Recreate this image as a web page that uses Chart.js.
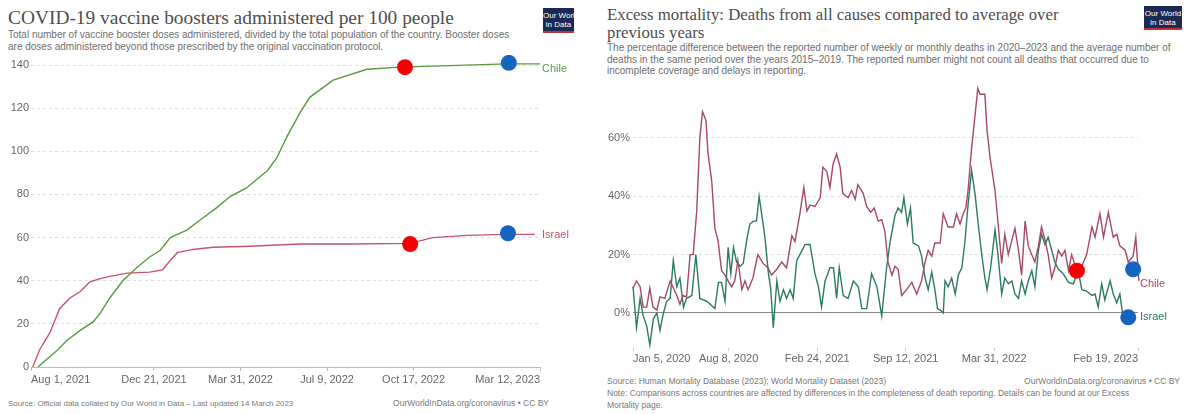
<!DOCTYPE html>
<html>
<head>
<meta charset="utf-8">
<script src="https://cdn.jsdelivr.net/npm/chart.js@4/dist/chart.umd.min.js"></script>
<style>
  body { margin: 0; background: #fff; width: 1186px; height: 414px; position: relative; overflow: hidden; font-family: "Liberation Sans", Arial, sans-serif; }
  .abs { position: absolute; white-space: nowrap; }
  .title { font-family: "Liberation Serif", serif; font-size: 19.4px; color: #4e4e4e; line-height: 18px; }
  .sub { font-size: 10px; color: #6e6e6e; line-height: 11.5px; }
  .foot { font-size: 8.5px; color: #777; line-height: 11.5px; }
  .logo { background: #1a2a55; color: #fff; font-size: 8px; line-height: 9px; text-align: center; border-bottom: 2px solid #c0313a; padding-top: 3px; box-sizing: border-box; }
  canvas { position: absolute; }
</style>
</head>
<body>

<div class="abs title" style="left:8px; top:9px;">COVID-19 vaccine boosters administered per 100 people</div>
<div class="abs sub" style="left:8px; top:29px;">Total number of vaccine booster doses administered, divided by the total population of the country. Booster doses<br>are doses administered beyond those prescribed by the original vaccination protocol.</div>
<div class="abs logo" style="left:543px; top:8px; width:31px; height:25px;">Our World<br>in Data</div>
<div class="abs foot" style="left:8px; top:398px; font-size:7.9px;">Source: Official data collated by Our World in Data – Last updated 14 March 2023</div>
<div class="abs foot" style="right:637px; top:398px;">OurWorldInData.org/coronavirus • CC BY</div>

<div class="abs title" style="left:607px; top:6px; font-size:16.8px;">Excess mortality: Deaths from all causes compared to average over<br>previous years</div>
<div class="abs sub" style="left:607px; top:42px;">The percentage difference between the reported number of weekly or monthly deaths in 2020–2023 and the average number of<br>deaths in the same period over the years 2015–2019. The reported number might not count all deaths that occurred due to<br>incomplete coverage and delays in reporting.</div>
<div class="abs logo" style="left:1144px; top:6px; width:38px; height:24px;">Our World<br>in Data</div>
<div class="abs foot" style="left:607px; top:376px;">Source: Human Mortality Database (2023); World Mortality Dataset (2023)</div>
<div class="abs foot" style="right:6px; top:376px;">OurWorldInData.org/coronavirus • CC BY</div>
<div class="abs foot" style="left:607px; top:388px;">Note: Comparisons across countries are affected by differences in the completeness of death reporting. Details can be found at our Excess<br>Mortality page.</div>

<canvas id="boosterChart" style="left:0px; top:55px;" width="590" height="335"></canvas>
<canvas id="mortalityChart" style="left:600px; top:70px;" width="586" height="295"></canvas>

<script>
// ---------- Left chart: boosters per 100 people (x = days since Aug 1, 2021) ----------
const boosterTickDays = [0, 142, 242, 342, 442, 588];
const boosterTickLabels = ['Aug 1, 2021', 'Dec 21, 2021', 'Mar 31, 2022', 'Jul 9, 2022', 'Oct 17, 2022', 'Mar 12, 2023'];
const boosterYTicks = [0, 20, 40, 60, 80, 100, 120, 140];

const chileBoosterDays = [8, 31, 42, 57, 72, 80, 91, 106, 122, 137, 149, 161, 180, 195, 215, 230, 249, 261, 273, 284, 296, 311, 322, 349, 388, 426, 464, 550, 588];
const chileBoosterValues = [0, 8, 12.5, 17, 21, 25, 32, 40, 46, 51, 54, 60, 63.5, 68, 74, 79, 83, 87, 91, 97, 107, 118, 125, 133, 138, 139, 139.5, 140.5, 140.5];

const israelBoosterDays = [2, 10, 22, 33, 45, 57, 68, 80, 91, 111, 137, 152, 161, 169, 187, 210, 253, 311, 368, 438, 464, 503, 550, 582];
const israelBoosterValues = [0, 8, 16, 27, 32, 35, 39.5, 41, 42, 43.5, 44, 45, 49.5, 53, 54.5, 55.5, 56, 57, 57, 57.3, 60, 61, 61.5, 61.5];

const boosterRedDots = [{ x: 432, y: 139 }, { x: 438, y: 57 }];
const boosterBlueDots = [{ x: 552, y: 141 }, { x: 551, y: 62 }];

// ---------- Right chart: excess mortality (x = days since Jan 5, 2020) ----------
const mortalityTickDays = [0, 216, 416, 616, 816, 1141];
const mortalityTickLabels = ['Jan 5, 2020', 'Aug 8, 2020', 'Feb 24, 2021', 'Sep 12, 2021', 'Mar 31, 2022', 'Feb 19, 2023'];
const mortalityYTicks = [0, 20, 40, 60];

const chileMortDays = [0, 8, 16, 23, 31, 38, 45, 54, 61, 72, 84, 90, 99, 106, 113, 121, 129, 136, 144, 151, 157, 165, 169, 178, 185, 192, 200, 208, 215, 223, 230, 237, 246, 253, 260, 271, 282, 294, 305, 313, 325, 336, 347, 359, 366, 377, 386, 393, 400, 411, 423, 429, 438, 445, 452, 460, 468, 474, 486, 494, 502, 508, 520, 528, 537, 545, 554, 562, 569, 576, 585, 592, 599, 607, 618, 630, 641, 652, 660, 667, 675, 682, 694, 701, 712, 724, 731, 739, 746, 752, 757, 765, 773, 779, 784, 795, 800, 807, 818, 825, 833, 840, 848, 856, 863, 871, 878, 886, 893, 901, 908, 916, 923, 931, 938, 946, 953, 961, 969, 976, 984, 991, 1003, 1014, 1025, 1037, 1044, 1055, 1063, 1074, 1085, 1093, 1100, 1112, 1119, 1130, 1136, 1143];
const chileMortValues = [8.5, 11, 9, 2, 2, 8.5, 2, 1, 5.5, 5, 11, 9, 6, 3, 6, 5.5, 20, 20, 35, 60, 69, 66, 55.5, 45, 29, 25, 14.6, 13, 11, 9, 11, 18, 8, 11, 8, 12, 20, 17, 15.5, 13, 15, 17.5, 15.5, 26.5, 24.5, 34, 43, 35, 37, 36.5, 39.5, 50, 48.5, 43, 51, 54.5, 50, 41, 39.5, 42, 39, 44, 41, 36.5, 34.5, 36, 31.5, 32, 28, 17.5, 13, 16, 15, 6, 8, 10.5, 6.5, 11, 17.5, 21.5, 19.5, 24, 24, 34, 29.5, 29.5, 34, 30.5, 34, 36, 42, 56.5, 68, 77, 75, 75, 62.5, 53, 42, 30.5, 17, 27, 20, 25, 29, 21.5, 13, 31.5, 23, 20, 17.5, 23, 29.5, 25, 20, 12, 15.5, 21.5, 19.5, 21.5, 14.5, 20, 14.5, 16, 20, 29.5, 26, 34, 26, 34.5, 26, 27, 23, 21.5, 17.5, 19.5, 26, 11];

const israelMortDays = [0, 8, 16, 23, 31, 38, 46, 54, 61, 68, 76, 84, 91, 99, 106, 114, 121, 133, 142, 151, 167, 178, 185, 193, 200, 208, 215, 221, 227, 234, 242, 249, 257, 264, 272, 279, 285, 293, 298, 306, 311, 317, 325, 332, 340, 347, 355, 362, 370, 377, 389, 400, 411, 419, 426, 434, 445, 453, 460, 466, 475, 486, 498, 509, 517, 528, 539, 551, 562, 573, 581, 592, 599, 607, 612, 620, 627, 633, 645, 652, 660, 667, 675, 682, 688, 694, 701, 705, 712, 720, 728, 735, 743, 750, 757, 765, 773, 780, 788, 795, 800, 808, 818, 825, 833, 840, 848, 856, 863, 871, 878, 886, 893, 901, 908, 916, 923, 931, 938, 946, 953, 961, 972, 984, 995, 1006, 1014, 1025, 1037, 1044, 1051, 1059, 1066, 1078, 1085, 1093, 1100, 1106, 1115];
const israelMortValues = [9, -5, 5, -1, -4.5, -11, -2, 0, -6, -0.5, 4, 5, 18, 9, 12, 2, 5, 6, 20, 5, 4, 2.5, 1.5, 10.5, 10.5, 4, 22.5, 13.5, 22.5, 17.5, 16, 17, 25, 30.5, 31.5, 31.5, 40, 31.5, 26, 13.5, 8.5, -5, 11, 4, 8, 5, 8, 5, 18, 20, 23.5, 23.5, 13.5, 9, 2, 11, 15.5, 15.5, 5, 15.5, 6, 5, 11, 9, 1.5, 1.5, 13.5, 9, -1, 15.5, 24.5, 33.5, 36, 34.5, 39.5, 30.5, 36, 24, 23, 19.5, 12, 8, 14, 8, 1.5, 1, 0, 11, 9, 12, 6.5, 13, 15.5, 24.5, 37, 49, 40.5, 30.5, 20, 12, 8, 15.5, 28.5, 19.5, 6.5, 12, 10, 11, 6.5, 5, 11, 6.5, 11, 14.5, 9, 21.5, 27, 23.5, 26, 21.5, 17.5, 15, 13.5, 10.5, 10, 14.5, 8, 7.5, 6, 6.5, 2, 10, 4.5, 11, 6.5, 3.5, 6.5, 0, -1];

const mortalityRedDots = [{ x: 1003, y: 14.5 }];
const mortalityBlueDots = [{ x: 1130, y: 15 }, { x: 1119, y: -1.5 }];

// ---------- helpers ----------
const toPoints = (xs, ys) => xs.map((x, i) => ({ x: x, y: ys[i] }));
const TICK_FONT = { family: 'Liberation Sans', size: 11 };

// rysuje nazwe kraju przy koncu linii
const endLabelPlugin = {
    id: 'endLabels',
    afterDatasetsDraw(chart) {
        const ctx = chart.ctx;
        chart.data.datasets.forEach((ds, i) => {
            if (!ds.endLabel) return;
            const pts = chart.getDatasetMeta(i).data;
            const last = pts[pts.length - 1];
            ctx.save();
            ctx.font = '11px "Liberation Sans"';
            ctx.fillStyle = ds.borderColor;
            ctx.textBaseline = 'middle';
            ctx.fillText(ds.endLabel, chart.chartArea.right + 2, last.y + (ds.endLabelDy || 0));
            ctx.restore();
        });
    }
};

function lineSet(label, xs, ys, color, dy) {
    return {
        label: label, data: toPoints(xs, ys), borderColor: color, borderWidth: 1.4,
        pointRadius: 0, tension: 0, clip: false, endLabel: label, endLabelDy: dy || 0
    };
}

function dotSet(points, color) {
    return {
        type: 'scatter', data: points, backgroundColor: color, borderWidth: 0,
        pointRadius: 8, order: -1, clip: false
    };
}

// ---------- left chart ----------
new Chart(document.getElementById('boosterChart'), {
    type: 'line',
    data: {
        datasets: [
            dotSet(boosterRedDots, '#f40000'),
            dotSet(boosterBlueDots, '#1565c0'),
            lineSet('Chile', chileBoosterDays, chileBoosterValues, '#5a9a3e', 5),
            lineSet('Israel', israelBoosterDays, israelBoosterValues, '#c4546a', 1)
        ]
    },
    options: {
        responsive: false, animation: false,
        layout: { padding: { top: 10, right: 50, left: 0, bottom: 0 } },
        plugins: { legend: { display: false }, tooltip: { enabled: false } },
        scales: {
            x: {
                type: 'linear', min: 0, max: 588,
                afterBuildTicks: (s) => { s.ticks = boosterTickDays.map(v => ({ value: v })); },
                afterFit: (s) => { s.height = 23; },
                ticks: {
                    align: 'inner', autoSkip: false, maxRotation: 0, color: '#666', font: TICK_FONT, padding: 2,
                    callback: (v) => boosterTickLabels[boosterTickDays.indexOf(v)]
                },
                grid: { drawOnChartArea: false, drawTicks: true, tickLength: 4, color: '#bbb' },
                border: { display: true, color: '#bbb' }
            },
            y: {
                min: 0, max: 140,
                afterBuildTicks: (s) => { s.ticks = boosterYTicks.map(v => ({ value: v })); },
                afterFit: (s) => { s.width = 31; },
                ticks: { color: '#666', font: TICK_FONT, padding: 2 },
                grid: { color: '#dcdcdc', drawTicks: false },
                border: { display: false, dash: [3, 3] }
            }
        }
    },
    plugins: [endLabelPlugin]
});

// ---------- right chart ----------
new Chart(document.getElementById('mortalityChart'), {
    type: 'line',
    data: {
        datasets: [
            dotSet(mortalityRedDots, '#f40000'),
            dotSet(mortalityBlueDots, '#1565c0'),
            lineSet('Chile', chileMortDays, chileMortValues, '#a64966', 3),
            lineSet('Israel', israelMortDays, israelMortValues, '#2c7b5c', 1)
        ]
    },
    options: {
        responsive: false, animation: false,
        layout: { padding: { top: 8, right: 48, left: 0, bottom: 0 } },
        plugins: { legend: { display: false }, tooltip: { enabled: false } },
        scales: {
            x: {
                type: 'linear', min: 0, max: 1141,
                afterBuildTicks: (s) => { s.ticks = mortalityTickDays.map(v => ({ value: v })); },
                afterFit: (s) => { s.height = 17; },
                ticks: {
                    align: 'inner', autoSkip: false, maxRotation: 0, color: '#666', font: TICK_FONT, padding: 1,
                    callback: (v) => mortalityTickLabels[mortalityTickDays.indexOf(v)]
                },
                grid: { drawOnChartArea: false, drawTicks: true, tickLength: 3, color: '#ccc' },
                border: { display: false }
            },
            y: {
                min: -12, max: 80,
                afterBuildTicks: (s) => { s.ticks = mortalityYTicks.map(v => ({ value: v })); },
                afterFit: (s) => { s.width = 33; },
                ticks: { color: '#666', font: TICK_FONT, padding: 3, callback: (v) => v + '%' },
                grid: {
                    drawTicks: false,
                    color: (c) => c.tick && c.tick.value === 0 ? '#8a8a8a' : '#dcdcdc'
                },
                border: { display: false, dash: (c) => c.tick && c.tick.value === 0 ? [] : [3, 3] }
            }
        }
    },
    plugins: [endLabelPlugin]
});
</script>
</body>
</html>
